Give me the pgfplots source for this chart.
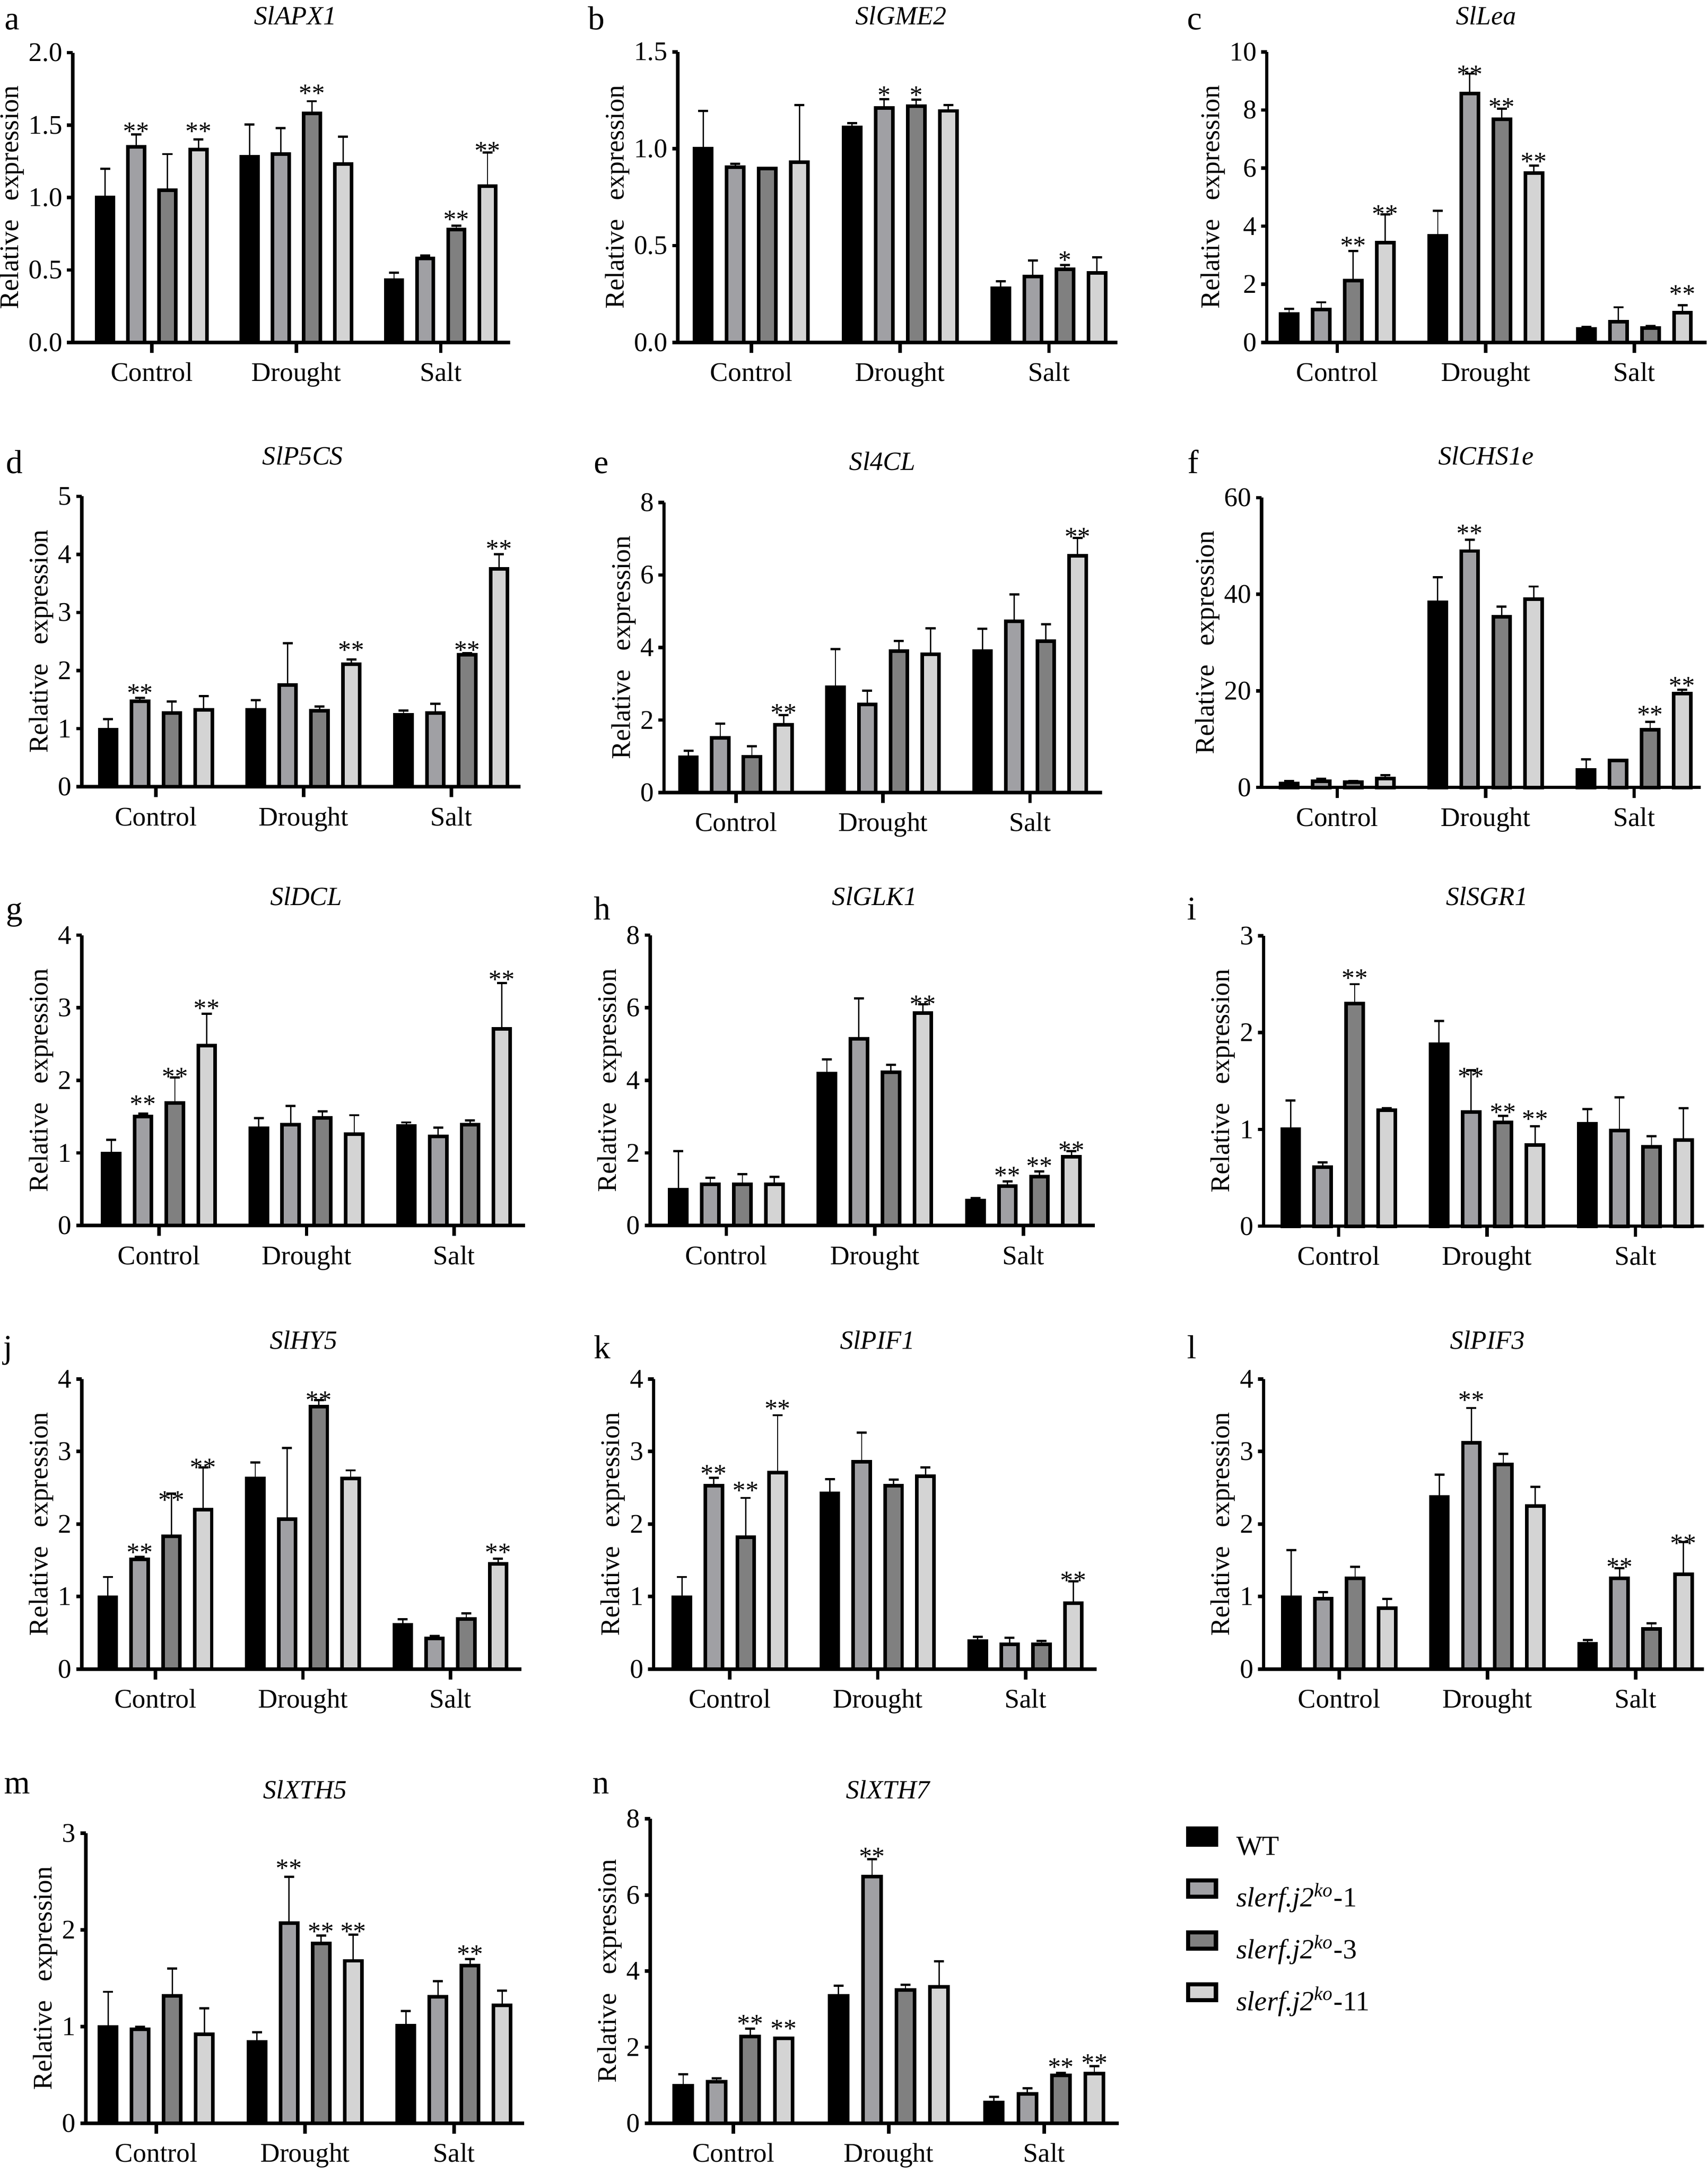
\documentclass[border=0pt]{standalone}
\usepackage{pgfplots}
\usepackage{pgfplotstable}
\pgfplotsset{compat=1.18}
\usepackage{fontspec}
\setmainfont{Liberation Serif}
\definecolor{cA}{HTML}{A0A0A4}
\definecolor{cB}{HTML}{808080}
\definecolor{cC}{HTML}{D4D4D4}
\newcommand{\tkf}{\fontsize{9.7}{11}\selectfont}
\newcommand{\ttl}{\fontsize{9.5}{11}\selectfont\itshape}
\newcommand{\lttr}{\fontsize{12}{14}\selectfont}
\newcommand{\lgf}{\fontsize{10}{12}\selectfont}
\newcommand{\stf}{\fontsize{9.4}{10}\selectfont}
\pgfplotsset{
  panel/.style={
    scale only axis, anchor=south west, clip=false,
    axis x line*=bottom, axis y line*=left,
    axis line style={-, line width=1.25pt},
    every outer x axis line/.append style={-},
    every outer y axis line/.append style={-},
    ymin=0,
    xtick=\empty,
    extra x ticks={0,1,2},
    extra x tick labels={Control,Drought,Salt},
    extra x tick style={major tick length=3.75pt},
    tick align=outside,
    major tick length=2pt,
    tick style={line width=1.25pt, black},
    ticklabel style={font=\tkf},
    /pgf/number format/assume math mode=true,
    ylabel={Relative\hspace{0.7em}expression},
    ylabel style={font=\tkf, inner sep=0pt},
    yticklabel style={inner sep=1.5pt},
  },
  bb/.style={ybar, bar width=0.115, draw=black, line width=1.3pt,
    legend image code/.code={\draw[##1, line width=1.5pt] (0pt,0.4pt) rectangle (10pt,6.2pt);}},
  cmb/.style={ycomb, black, line width=0.45pt, mark=-, mark size=1.8pt,
    mark options={line width=0.8pt, solid}, forget plot},
  st/.style={only marks, mark=none, nodes near coords, point meta=explicit symbolic, forget plot,
    every node near coord/.append style={anchor=base, inner sep=0pt, yshift=-2.8pt, font=\stf, black}},
}
\newcommand{\bars}[1]{%
  \addplot[cmb] table[x expr=\thisrow{x}-0.3234, y expr=\thisrow{WT}+\thisrow{WTe}]{#1};
  \addplot[cmb] table[x expr=\thisrow{x}-0.1078, y expr=\thisrow{L1}+\thisrow{L1e}]{#1};
  \addplot[cmb] table[x expr=\thisrow{x}+0.1078, y expr=\thisrow{L3}+\thisrow{L3e}]{#1};
  \addplot[cmb] table[x expr=\thisrow{x}+0.3234, y expr=\thisrow{L11}+\thisrow{L11e}]{#1};
  \addplot[bb, bar shift=-0.3234, fill=black] table[x=x,y=WT]{#1};
  \addplot[bb, bar shift=-0.1078, fill=cA] table[x=x,y=L1]{#1};
  \addplot[bb, bar shift=0.1078, fill=cB] table[x=x,y=L3]{#1};
  \addplot[bb, bar shift=0.3234, fill=cC] table[x=x,y=L11]{#1};
}
\pgfplotstableread{
x WT WTe L1 L1e L3 L3e L11 L11e
0 1.00 0.20 1.35 0.085 1.05 0.25 1.33 0.07
1 1.28 0.225 1.30 0.18 1.58 0.085 1.23 0.19
2 0.43 0.05 0.58 0.02 0.78 0.025 1.08 0.23
}\tA
\pgfplotstableread{
x WT WTe L1 L1e L3 L3e L11 L11e
0 1.00 0.196 0.905 0.017 0.897 0.005 0.93 0.295
1 1.11 0.022 1.21 0.045 1.22 0.033 1.195 0.03
2 0.279 0.036 0.341 0.082 0.378 0.021 0.359 0.08
}\tB
\pgfplotstableread{
x WT WTe L1 L1e L3 L3e L11 L11e
0 0.98 0.17 1.13 0.25 2.13 1.01 3.44 0.96
1 3.67 0.86 8.56 0.69 7.68 0.37 5.83 0.25
2 0.47 0.07 0.71 0.50 0.49 0.07 1.03 0.25
}\tC
\pgfplotstableread{
x WT WTe L1 L1e L3 L3e L11 L11e
0 0.98 0.185 1.47 0.06 1.27 0.20 1.32 0.24
1 1.32 0.17 1.75 0.72 1.31 0.07 2.11 0.08
2 1.24 0.07 1.27 0.16 2.27 0.03 3.75 0.25
}\tD
\pgfplotstableread{
x WT WTe L1 L1e L3 L3e L11 L11e
0 0.97 0.18 1.51 0.39 0.99 0.29 1.87 0.27
1 2.90 1.06 2.43 0.38 3.90 0.28 3.81 0.72
2 3.90 0.62 4.72 0.74 4.17 0.47 6.53 0.49
}\tE
\pgfplotstableread{
x WT WTe L1 L1e L3 L3e L11 L11e
0 0.85 0.45 1.30 0.50 1.13 0.20 1.87 0.68
1 38.3 5.2 48.95 2.35 35.3 2.1 39.0 2.6
2 3.57 2.27 5.56 0.15 11.97 1.6 19.4 0.8
}\tF
\pgfplotstableread{
x WT WTe L1 L1e L3 L3e L11 L11e
0 0.99 0.19 1.50 0.04 1.69 0.35 2.48 0.44
1 1.34 0.14 1.39 0.26 1.48 0.09 1.26 0.26
2 1.37 0.05 1.23 0.12 1.39 0.06 2.71 0.63
}\tG
\pgfplotstableread{
x WT WTe L1 L1e L3 L3e L11 L11e
0 0.98 1.07 1.13 0.19 1.14 0.27 1.14 0.20
1 4.19 0.39 5.15 1.11 4.22 0.21 5.85 0.25
2 0.68 0.07 1.08 0.13 1.34 0.15 1.89 0.16
}\tH
\pgfplotstableread{
x WT WTe L1 L1e L3 L3e L11 L11e
0 1.00 0.30 0.61 0.05 2.30 0.20 1.20 0.02
1 1.88 0.24 1.18 0.43 1.07 0.07 0.84 0.19
2 1.06 0.15 0.99 0.34 0.82 0.11 0.89 0.33
}\tI
\pgfplotstableread{
x WT WTe L1 L1e L3 L3e L11 L11e
0 0.99 0.28 1.51 0.04 1.83 0.59 2.20 0.58
1 2.63 0.22 2.07 0.98 3.62 0.09 2.63 0.11
2 0.61 0.08 0.42 0.04 0.69 0.08 1.45 0.07
}\tJ
\pgfplotstableread{
x WT WTe L1 L1e L3 L3e L11 L11e
0 0.99 0.28 2.53 0.11 1.82 0.54 2.71 0.79
1 2.42 0.20 2.86 0.40 2.53 0.08 2.66 0.12
2 0.385 0.06 0.34 0.09 0.34 0.05 0.91 0.30
}\tK
\pgfplotstableread{
x WT WTe L1 L1e L3 L3e L11 L11e
0 0.99 0.65 0.97 0.09 1.25 0.16 0.84 0.13
1 2.37 0.31 3.12 0.48 2.82 0.15 2.25 0.26
2 0.35 0.05 1.25 0.14 0.555 0.075 1.31 0.44
}\tL
\pgfplotstableread{
x WT WTe L1 L1e L3 L3e L11 L11e
0 0.995 0.365 0.97 0.03 1.32 0.28 0.92 0.27
1 0.84 0.10 2.07 0.48 1.86 0.08 1.68 0.27
2 1.01 0.15 1.31 0.16 1.63 0.07 1.22 0.15
}\tM
\pgfplotstableread{
x WT WTe L1 L1e L3 L3e L11 L11e
0 0.99 0.30 1.09 0.09 2.28 0.21 2.23 0.02
1 3.35 0.27 6.48 0.46 3.50 0.14 3.59 0.67
2 0.54 0.15 0.77 0.15 1.26 0.06 1.30 0.20
}\tN
\begin{document}
\begin{tikzpicture}
\path[use as bounding box] (0,0) rectangle (616pt,-783.75pt);
% a
\begin{axis}[panel, at={(26.2pt,-123.5pt)}, width=157.8pt, height=104.5pt,
  xmin=-0.548, xmax=2.48, ymax=2, ytick={0,0.5,1,1.5,2},
  yticklabel style={/pgf/number format/.cd, fixed, fixed zerofill, precision=1}]
\bars{\tA}
\addplot[st] coordinates {(-0.1078,1.453)[**] (0.3234,1.453)[**] (1.1078,1.713)[**] (2.1078,0.843)[**] (2.3234,1.318)[**]};
\end{axis}
% b
\begin{axis}[panel, at={(244.5pt,-123.5pt)}, width=158.5pt, height=104.8pt,
  xmin=-0.494, xmax=2.46, ymax=1.5, ytick={0,0.5,1,1.5},
  yticklabel style={/pgf/number format/.cd, fixed, fixed zerofill, precision=1}]
\bars{\tB}
\addplot[st] coordinates {(0.8922,1.272)[*] (1.1078,1.272)[*] (2.1078,0.422)[*]};
\end{axis}
% c
\begin{axis}[panel, at={(456.9pt,-123.5pt)}, width=158.6pt, height=104.8pt,
  xmin=-0.474, xmax=2.485, ymax=10, ytick={0,2,4,6,8,10}]
\bars{\tC}
\addplot[st] coordinates {(0.1078,3.31)[**] (0.3234,4.39)[**] (0.8922,9.2)[**] (1.1078,8.08)[**] (1.3234,6.2)[**] (2.3234,1.64)[**]};
\end{axis}
% d
\begin{axis}[panel, at={(29.5pt,-283.75pt)}, width=158.3pt, height=104.75pt,
  xmin=-0.502, xmax=2.47, ymax=5, ytick={0,1,2,3,4,5}]
\bars{\tD}
\addplot[st] coordinates {(-0.1078,1.60)[**] (1.3234,2.34)[**] (2.1078,2.34)[**] (2.3234,4.08)[**]};
\end{axis}
% e
\begin{axis}[panel, at={(239.5pt,-285.85pt)}, width=158pt, height=104.65pt,
  xmin=-0.49, xmax=2.49, ymax=8, ytick={0,2,4,6,8}]
\bars{\tE}
\addplot[st] coordinates {(0.3234,2.17)[**] (2.3234,7.04)[**]};
\end{axis}
% f
\begin{axis}[panel, at={(455pt,-284pt)}, width=158.5pt, height=104.5pt,
  xmin=-0.51, xmax=2.45, ymax=60, ytick={0,20,40,60}]
\bars{\tF}
\addplot[st] coordinates {(0.8922,52.4)[**] (2.1078,14.9)[**] (2.3234,20.9)[**]};
\end{axis}
% g
\begin{axis}[panel, at={(29.5pt,-442pt)}, width=159.85pt, height=104.7pt,
  xmin=-0.523, xmax=2.48, ymax=4, ytick={0,1,2,3,4}]
\bars{\tG}
\addplot[st] coordinates {(-0.1078,1.66)[**] (0.1078,2.04)[**] (0.3234,2.98)[**] (2.3234,3.38)[**]};
\end{axis}
% h
\begin{axis}[panel, at={(234.5pt,-442pt)}, width=160.35pt, height=104.7pt,
  xmin=-0.513, xmax=2.48, ymax=8, ytick={0,2,4,6,8}]
\bars{\tH}
\addplot[st] coordinates {(1.3234,6.08)[**] (1.8922,1.36)[**] (2.1078,1.62)[**] (2.3234,2.05)[**]};
\end{axis}
% i
\begin{axis}[panel, at={(455.75pt,-442.25pt)}, width=158.75pt, height=104.75pt,
  xmin=-0.506, xmax=2.46, ymax=3, ytick={0,1,2,3}]
\bars{\tI}
\addplot[st] coordinates {(0.1078,2.555)[**] (0.8922,1.535)[**] (1.1078,1.167)[**] (1.3234,1.096)[**]};
\end{axis}
% j
\begin{axis}[panel, at={(29.5pt,-602pt)}, width=158.5pt, height=104.65pt,
  xmin=-0.5, xmax=2.48, ymax=4, ytick={0,1,2,3,4}]
\bars{\tJ}
\addplot[st] coordinates {(-0.1078,1.60)[**] (0.1078,2.32)[**] (0.3234,2.77)[**] (1.1078,3.70)[**] (2.3234,1.60)[**]};
\end{axis}
% k
\begin{axis}[panel, at={(235.75pt,-602pt)}, width=159.75pt, height=104.65pt,
  xmin=-0.515, xmax=2.48, ymax=4, ytick={0,1,2,3,4}]
\bars{\tK}
\addplot[st] coordinates {(-0.1078,2.68)[**] (0.1078,2.45)[**] (0.3234,3.58)[**] (2.3234,1.21)[**]};
\end{axis}
% l
\begin{axis}[panel, at={(455.75pt,-602pt)}, width=158.75pt, height=104.65pt,
  xmin=-0.51, xmax=2.46, ymax=4, ytick={0,1,2,3,4}]
\bars{\tL}
\addplot[st] coordinates {(0.8922,3.70)[**] (1.8922,1.40)[**] (2.3234,1.72)[**]};
\end{axis}
% m
\begin{axis}[panel, at={(31pt,-765.8pt)}, width=158pt, height=104.6pt,
  xmin=-0.472, xmax=2.47, ymax=3, ytick={0,1,2,3}]
\bars{\tM}
\addplot[st] coordinates {(0.8922,2.63)[**] (1.1078,1.975)[**] (1.3234,1.975)[**] (2.1078,1.74)[**]};
\end{axis}
% n
\begin{axis}[panel, at={(234.5pt,-765.8pt)}, width=169pt, height=109.8pt,
  xmin=-0.536, xmax=2.48, ymax=8, ytick={0,2,4,6,8},
  legend style={at={(axis description cs:1.1438,0.9745)}, anchor=north west, draw=none, fill=none,
    inner sep=0pt, outer sep=0pt, row sep=6pt, column sep=6.6pt, font=\lgf,
    nodes={inner sep=0pt, text height=9pt, text depth=2.5pt}},
  legend cell align=left]
\bars{\tN}
\addplot[st] coordinates {(0.1078,2.60)[**] (0.3234,2.46)[**] (0.8922,6.99)[**] (2.1078,1.45)[**] (2.3234,1.56)[**]};
\legend{WT, \textit{slerf.j2}\textsuperscript{\textit{ko}}-1, \textit{slerf.j2}\textsuperscript{\textit{ko}}-3, \textit{slerf.j2}\textsuperscript{\textit{ko}}-11}
\end{axis}
% titles
\begin{scope}[every node/.style={anchor=base, inner sep=0pt, font=\ttl}]
\node at (106.5pt,-8.9pt) {SlAPX1};
\node at (325pt,-8.9pt) {SlGME2};
\node at (536pt,-8.9pt) {SlLea};
\node at (109.2pt,-167.65pt) {SlP5CS};
\node at (318.25pt,-169.65pt) {Sl4CL};
\node at (536pt,-167.65pt) {SlCHS1e};
\node at (110.4pt,-326.45pt) {SlDCL};
\node at (315.5pt,-326.45pt) {SlGLK1};
\node at (536.3pt,-326.45pt) {SlSGR1};
\node at (109.5pt,-486.5pt) {SlHY5};
\node at (316.5pt,-486.5pt) {SlPIF1};
\node at (536.5pt,-486.5pt) {SlPIF3};
\node at (110pt,-648.65pt) {SlXTH5};
\node at (320.25pt,-648.65pt) {SlXTH7};
\end{scope}
% panel letters
\begin{scope}[every node/.style={anchor=base west, inner sep=0pt, font=\lttr}]
\node at (1.5pt,-10.75pt) {a};
\node at (211.9pt,-10.75pt) {b};
\node at (428pt,-10.75pt) {c};
\node at (2pt,-170.65pt) {d};
\node at (214pt,-170.65pt) {e};
\node at (428.25pt,-170.65pt) {f};
\node at (2pt,-331.8pt) {g};
\node at (214pt,-331.8pt) {h};
\node at (428pt,-331.8pt) {i};
\node at (1pt,-489.75pt) {j};
\node at (214pt,-490pt) {k};
\node at (428pt,-490pt) {l};
\node at (1.3pt,-647pt) {m};
\node at (213.5pt,-647pt) {n};
\end{scope}
\end{tikzpicture}
\end{document}
